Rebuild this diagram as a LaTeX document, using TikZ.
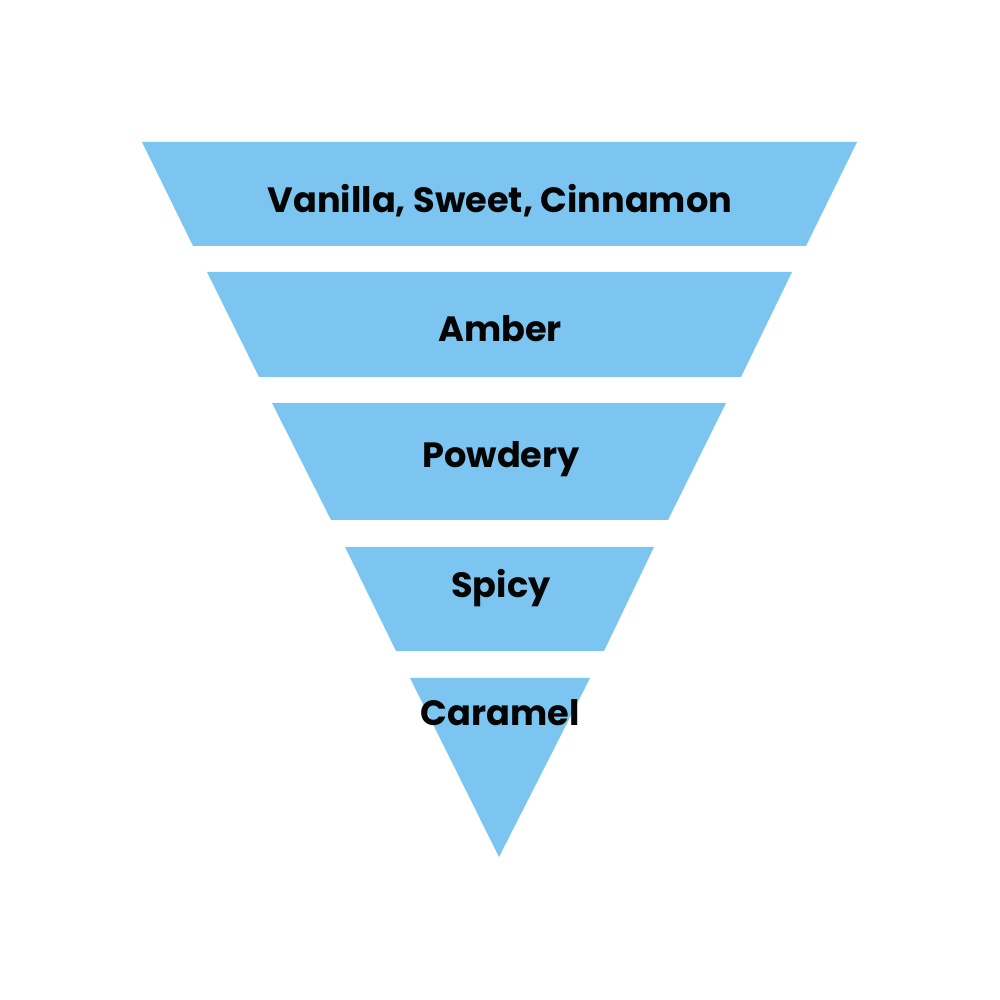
\documentclass[tikz,border=0pt]{standalone}
\usepackage{fontspec}
\setmainfont{Poppins}
\usepackage{tikz}
\usetikzlibrary{positioning}
\definecolor{sky}{HTML}{7DC5F1}
\definecolor{ink}{HTML}{050505}
\tikzset{
  band/.style={fill=sky,draw=none},
  lbl/.style={font=\bfseries\fontsize{10}{12}\selectfont,text=ink,align=center,inner sep=0pt}}
\begin{document}
\begin{tikzpicture}
  \useasboundingbox (0,0) rectangle (10,10);
  \fill[band] (1.42,8.58) -- (8.57,8.58) -- (8.06,7.54) -- (1.93,7.54) -- cycle;
  \fill[band] (2.07,7.28) -- (7.92,7.28) -- (7.41,6.23) -- (2.59,6.23) -- cycle;
  \fill[band] (2.72,5.97) -- (7.26,5.97) -- (6.68,4.80) -- (3.31,4.80) -- cycle;
  \fill[band] (3.45,4.53) -- (6.54,4.53) -- (6.04,3.49) -- (3.96,3.49) -- cycle;
  \fill[band] (4.10,3.22) -- (5.90,3.22) -- (4.99,1.43) -- cycle;
  \node[lbl] (vanilla) at (5.00,7.99) {Vanilla, Sweet, Cinnamon};
  \node[lbl] (amber) at (5.00,6.71) {Amber};
  \node[lbl] (powdery) at (5.01,5.41) {Powdery};
  \node[lbl] (spicy) at (5.01,4.12) {Spicy};
  \node[lbl] (caramel) at (5.00,2.87) {Caramel};
\end{tikzpicture}
\end{document}
